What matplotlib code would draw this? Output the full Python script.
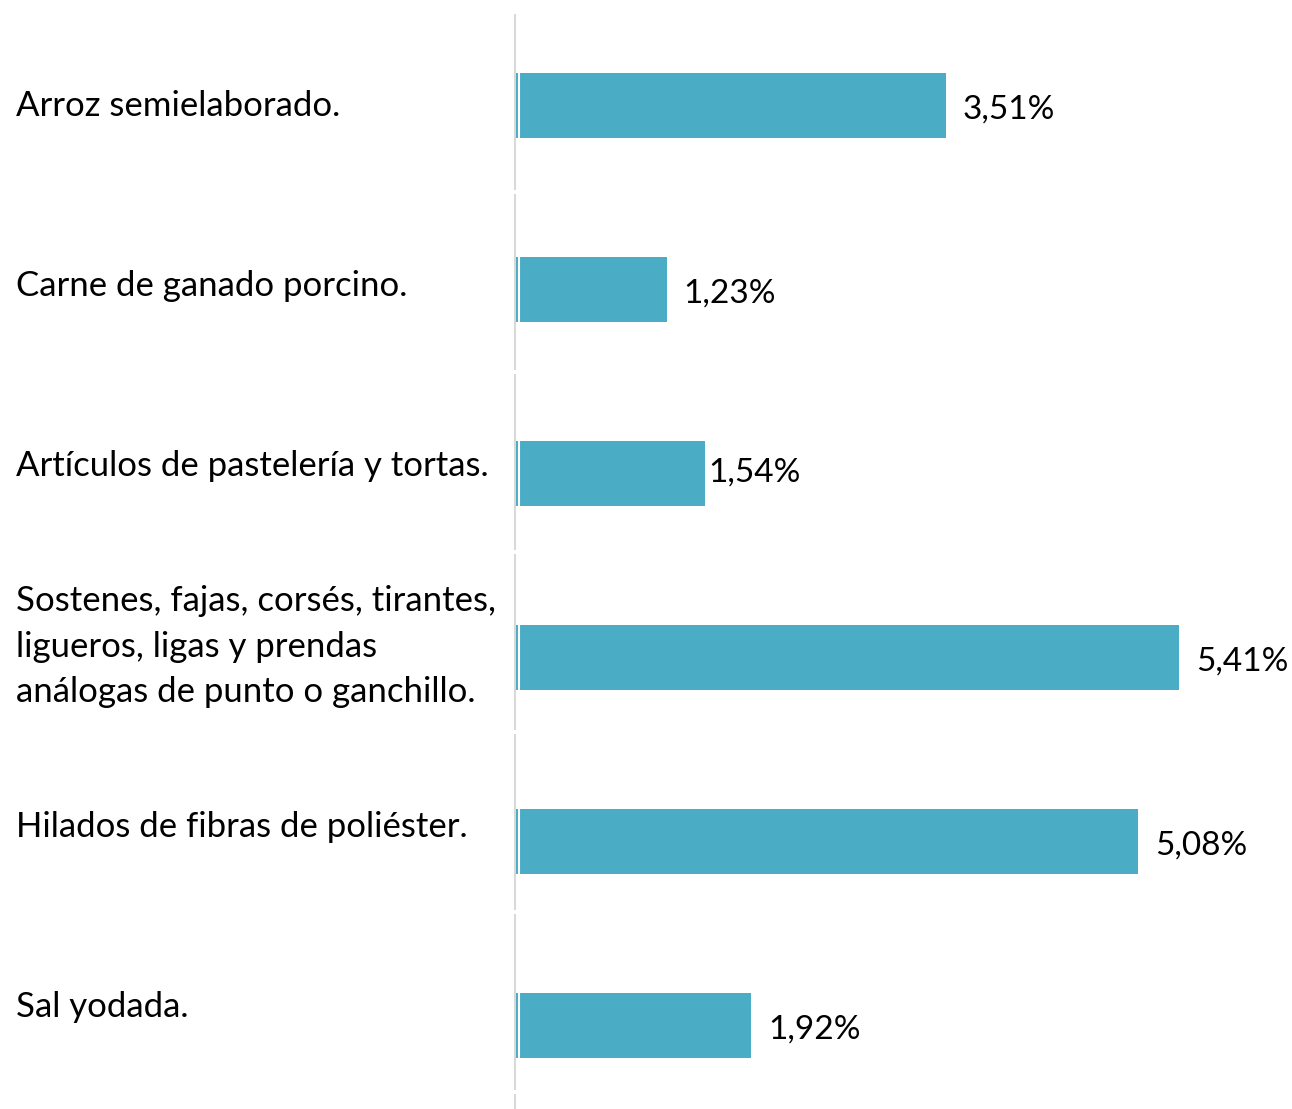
import matplotlib
matplotlib.use("Agg")
import matplotlib.pyplot as plt
import matplotlib.transforms as mtransforms

categories = [
    "Arroz semielaborado.",
    "Carne de ganado porcino.",
    "Artículos de pastelería y tortas.",
    "Sostenes, fajas, corsés, tirantes,\nligueros, ligas y prendas\nanálogas de punto o ganchillo.",
    "Hilados de fibras de poliéster.",
    "Sal yodada.",
]
values = [3.51, 1.23, 1.54, 5.41, 5.08, 1.92]
value_labels = ["3,51%", "1,23%", "1,54%", "5,41%", "5,08%", "1,92%"]

# style
BAR_COLOR = "#4BACC6"
AXIS_COLOR = "#D9D9D9"
FONT = ["Lato", "DejaVu Sans"]
FS_CAT = 25
FS_VAL = 24
label_pad_px = [17, 17, 4, 17, 17, 17]
label_dy_px = [-4, -4, 1, -4, -4, -4]

W, H, DPI = 1292, 1109, 100
fig = plt.figure(figsize=(W / DPI, H / DPI), dpi=DPI)
ax_left_px, ax_top_px = 516, 14
ax = fig.add_axes([ax_left_px / W, 0, 1 - ax_left_px / W, 1 - ax_top_px / H])
ax.set_axis_off()

band_px = 180.0
bar_step = 184.0 / band_px
bar_off = (105.5 - ax_top_px) / band_px
bar_h = 65.0 / band_px
px_per_unit = 122.5

ax.set_xlim(0, (W - ax_left_px) / px_per_unit)
ax.set_ylim((H - ax_top_px) / band_px, 0)

n = len(categories)
ypos = [bar_off + i * bar_step for i in range(n)]
ax.barh(ypos, values, height=bar_h, color=BAR_COLOR, zorder=2)

# white separator line near the base of each bar
off_white = mtransforms.offset_copy(ax.transData, fig=fig, x=3.0, y=0, units="dots")
for y in ypos:
    ax.plot([0, 0], [y - bar_h / 2, y + bar_h / 2], color="white", lw=1.5,
            transform=off_white, solid_capstyle="butt", zorder=3)

# segmented category axis line
off_axis = mtransforms.offset_copy(ax.transData, fig=fig, x=-1.5, y=0, units="dots")
for i in range(n + 1):
    ax.plot([0, 0], [i, i + 176.0 / band_px], color=AXIS_COLOR, lw=1.5,
            transform=off_axis, solid_capstyle="butt", zorder=1, clip_on=False)

# value labels
for y, v, lab, pad, dy in zip(ypos, values, value_labels, label_pad_px, label_dy_px):
    t = mtransforms.offset_copy(ax.transData, fig=fig, x=pad, y=dy, units="dots")
    ax.text(v, y, lab, transform=t, ha="left", va="center", fontsize=FS_VAL,
            family=FONT, color="black")

# category labels
blend = mtransforms.blended_transform_factory(fig.transFigure, ax.transData)
cat_t = blend + mtransforms.ScaledTranslation(0, -2.5 / DPI, fig.dpi_scale_trans)
for i, cat in enumerate(categories):
    ax.text(16 / W, i + 0.5, cat, transform=cat_t, ha="left", va="center",
            fontsize=FS_CAT, family=FONT, color="black", linespacing=1.52)

fig.savefig("out.png", dpi=DPI, facecolor="white")
